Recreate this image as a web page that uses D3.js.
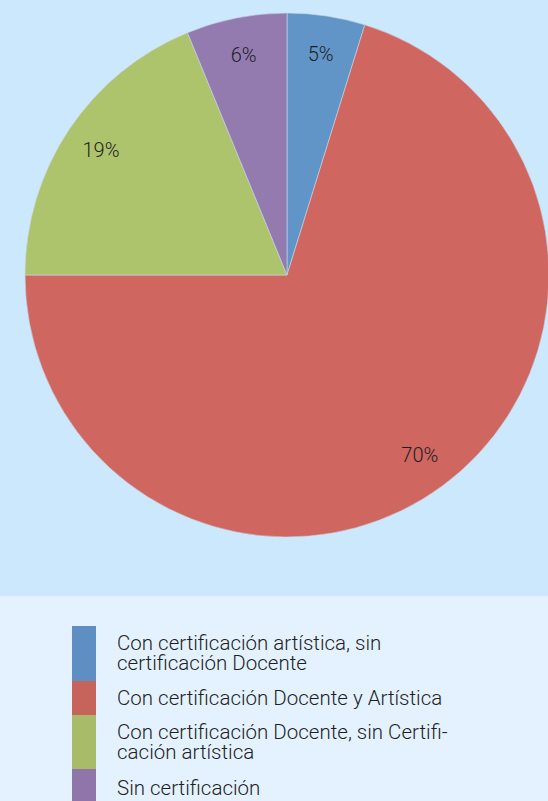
<!DOCTYPE html>
<html>
<head>
<meta charset="utf-8">
<script src="https://cdn.jsdelivr.net/npm/d3@7"></script>
<style>
  body { margin: 0; background: #e3f2fe; }
  svg { display: block; font-family: Roboto, sans-serif; }
</style>
</head>
<body>
<script>
var categories = [
  "Con certificación artística, sin certificación Docente",
  "Con certificación Docente y Artística",
  "Con certificación Docente, sin Certificación artística",
  "Sin certificación"
];
var values = [4.8, 70.2, 18.8, 6.2];
var labels = ["5%", "70%", "19%", "6%"];
// legend text, already split the way the original wraps it
var legendLines = [
  ["Con certificación artística, sin", "certificación Docente"],
  ["Con certificación Docente y Artística"],
  ["Con certificación Docente, sin Certifi-", "cación artística"],
  ["Sin certificación"]
];
var colors = ["#6195c8", "#cf665f", "#adc46c", "#937bb0"];
var legendColors = ["#5f8fc2", "#c6645c", "#a7bb69", "#8f75a9"];

var width = 548, height = 801;
var cx = 287, cy = 275, radius = 262;

var svg = d3.select("body").append("svg")
    .attr("width", width)
    .attr("height", height);

svg.append("rect")
    .attr("width", width)
    .attr("height", 596)
    .attr("fill", "#cce8fd");
svg.append("rect")
    .attr("y", 596)
    .attr("width", width)
    .attr("height", height - 596)
    .attr("fill", "#e3f2fe");

var pie = d3.pie().sort(null).value(function(d) { return d; });
var arc = d3.arc().innerRadius(0).outerRadius(radius);
var labelArc = d3.arc().innerRadius(224).outerRadius(224);

var g = svg.append("g")
    .attr("transform", "translate(" + cx + "," + cy + ")");

var arcs = pie(values);

g.selectAll(".slice")
    .data(arcs)
    .enter().append("path")
    .attr("class", "slice")
    .attr("d", arc)
    .attr("fill", function(d, i) { return colors[i]; })
    .attr("stroke", "#c9d6ea")
    .attr("stroke-width", 0.6);

g.selectAll(".lbl")
    .data(arcs)
    .enter().append("text")
    .attr("class", "lbl")
    .attr("transform", function(d) { return "translate(" + labelArc.centroid(d) + ")"; })
    .attr("text-anchor", "middle")
    .attr("dy", "0.35em")
    .style("font-size", "20px")
    .style("font-weight", 300)
    .style("fill", "#1e1e24")
    .text(function(d, i) { return labels[i]; });

// legend
var swatchTop = [626, 681, 715, 769];
var swatchBottom = [681, 715, 769, 801];
var legend = svg.append("g");
var items = legend.selectAll(".item")
    .data(categories)
    .enter().append("g")
    .attr("class", "item");

items.append("rect")
    .attr("x", 72)
    .attr("y", function(d, i) { return swatchTop[i]; })
    .attr("width", 24)
    .attr("height", function(d, i) { return swatchBottom[i] - swatchTop[i]; })
    .attr("fill", function(d, i) { return legendColors[i]; });

items.append("text")
    .attr("x", 117)
    .attr("y", function(d, i) {
      var mid = (swatchTop[i] + swatchBottom[i]) / 2;
      if (i === 3) mid = 788;
      return mid - (legendLines[i].length - 1) * 10;
    })
    .style("font-size", "20.5px")
    .style("font-weight", 300)
    .style("fill", "#1e1e24")
    .each(function(d, i) {
      var t = d3.select(this);
      legendLines[i].forEach(function(line, j) {
        t.append("tspan")
          .attr("x", 117)
          .attr("dy", j === 0 ? "0.33em" : "20px")
          .text(line);
      });
    });
</script>
</body>
</html>
